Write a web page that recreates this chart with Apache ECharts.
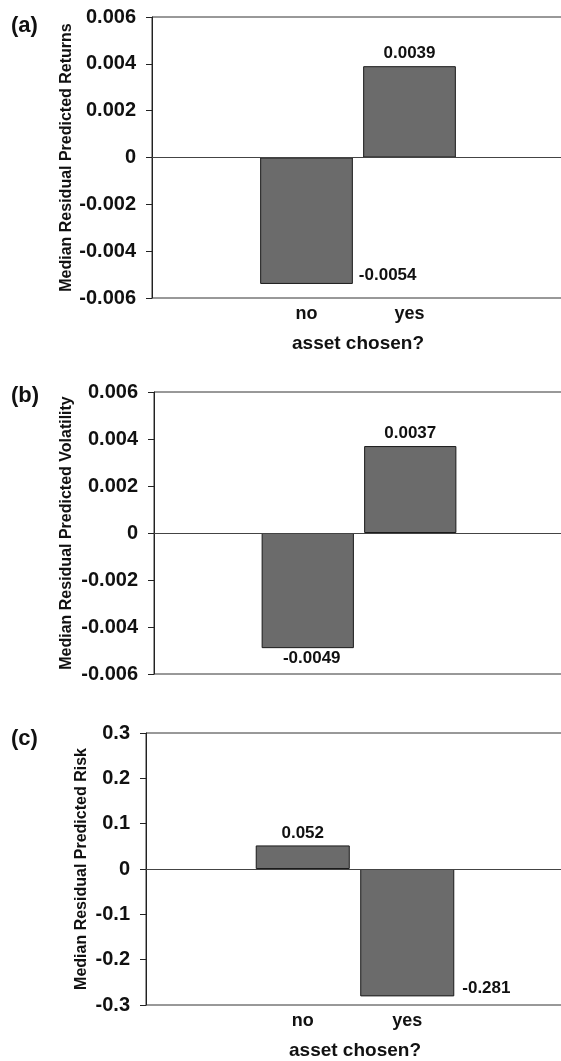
<!DOCTYPE html>
<html>
<head>
<meta charset="utf-8">
<script src="https://cdn.jsdelivr.net/npm/echarts@6/dist/echarts.min.js"></script>
<style>
html,body{margin:0;padding:0;background:#fff;}
#chart{width:561px;height:1061px;}
</style>
</head>
<body>
<div id="chart"></div>
<script>
// ---- data ----
const categories = ['no', 'yes'];
const returnsValues = [-0.0054, 0.0039];
const volatilityValues = [-0.0049, 0.0037];
const riskValues = [0.052, -0.281];
const panelLetters = ['(a)', '(b)', '(c)'];
const yNames = ['Median Residual Predicted Returns', 'Median Residual Predicted Volatility', 'Median Residual Predicted Risk'];
const xName = 'asset chosen?';

const FONT = "'Liberation Sans', Arial, Helvetica, sans-serif";
const chart = echarts.init(document.getElementById('chart'), null, {renderer: 'canvas'});

const paddedCats = ['', ...categories, ''];
function padded(vals, labelCfg) {
  return [null, ...vals.map((v, i) => ({value: v, label: labelCfg[i]})), null];
}

const labelBase = {show: true, fontFamily: FONT, fontWeight: 'bold', fontSize: 17, color: '#111'};

const panels = [
  {grid: {left: 152, top: 17, width: 412, height: 281}, vals: returnsValues, min: -0.006, max: 0.006, interval: 0.002, dec: 3,
   showX: true, nameGap: 77,
   labels: [{position: ['100%', '100%'], align: 'left', verticalAlign: 'bottom', offset: [6, 0]}, {position: 'top', distance: 4}],
   letterY: 27},
  {grid: {left: 154, top: 392, width: 410, height: 282}, vals: volatilityValues, min: -0.006, max: 0.006, interval: 0.002, dec: 3,
   showX: false, nameGap: 79,
   labels: [{position: 'bottom', distance: 2, offset: [4, 0]}, {position: 'top', distance: 4}],
   letterY: 397},
  {grid: {left: 146, top: 733, width: 418, height: 272}, vals: riskValues, min: -0.3, max: 0.3, interval: 0.1, dec: 1,
   showX: true, nameGap: 56,
   labels: [{position: 'top', distance: 4}, {position: ['100%', '100%'], align: 'left', verticalAlign: 'bottom', offset: [8, 0]}],
   letterY: 740}
];

const option = {
  animation: false,
  backgroundColor: '#fff',
  grid: [], xAxis: [], yAxis: [], series: [],
  graphic: []
};

panels.forEach((p, k) => {
  option.grid.push(Object.assign({show: true, borderColor: '#333', borderWidth: 1, backgroundColor: 'transparent',
    containLabel: false, outerBoundsMode: 'none'}, p.grid));
  option.xAxis.push({
    type: 'category', gridIndex: k, data: paddedCats,
    axisLine: {show: false}, axisTick: {show: false}, splitLine: {show: false},
    axisLabel: {show: p.showX, fontFamily: FONT, fontWeight: 'bold', fontSize: 18, color: '#111', margin: 7, interval: 0},
    name: p.showX ? xName : '', nameLocation: 'middle', nameGap: 36,
    nameTextStyle: {fontFamily: FONT, fontWeight: 'bold', fontSize: 19, color: '#111'}
  });
  option.yAxis.push({
    type: 'value', gridIndex: k, min: p.min, max: p.max, interval: p.interval,
    axisLine: {show: true, lineStyle: {color: '#222', width: 1}},
    axisTick: {show: true, length: 6, lineStyle: {color: '#222'}},
    splitLine: {show: false},
    axisLabel: {fontFamily: FONT, fontWeight: 'bold', fontSize: 20, color: '#111', margin: 16,
      formatter: v => Math.abs(v) < 1e-12 ? '0' : v.toFixed(p.dec)},
    name: yNames[k], nameLocation: 'middle', nameGap: p.nameGap, nameMoveOverlap: false,
    nameTextStyle: {fontFamily: FONT, fontWeight: 'bold', fontSize: 16, color: '#111'}
  });
  option.series.push({
    type: 'bar', xAxisIndex: k, yAxisIndex: k,
    data: padded(p.vals, p.labels.map(l => Object.assign({}, labelBase, l))),
    barWidth: '90%',
    itemStyle: {color: '#6b6b6b', borderColor: '#1a1a1a', borderWidth: 1},
    label: Object.assign({}, labelBase, {formatter: d => String(d.value)}),
    markLine: {silent: true, symbol: ['none', 'none'], label: {show: false},
      lineStyle: {color: '#444', type: 'solid', width: 1}, data: [{yAxis: 0}]}
  });
  option.graphic.push({
    type: 'text', left: 11, top: p.letterY - 12,
    style: {text: panelLetters[k], font: 'bold 22px ' + FONT, fill: '#111'}
  });
});

chart.setOption(option);
</script>
</body>
</html>
